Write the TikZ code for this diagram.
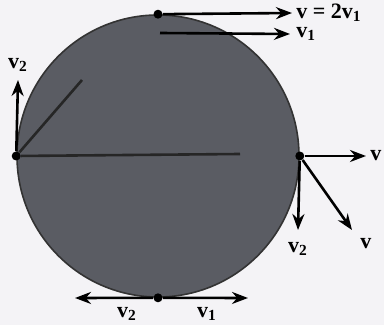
\documentclass[tikz,border=0pt]{standalone}
\usepackage{fontspec}
\setmainfont{Liberation Serif}
\usepackage{tikz}
\usetikzlibrary{positioning,arrows.meta}
\definecolor{paper}{HTML}{F4F3F6}
\definecolor{diskfill}{HTML}{5A5C63}
\tikzset{
  disk/.style={circle,draw=black!80,thick,fill=diskfill,minimum size=141pt,inner sep=0pt},
  dot/.style={circle,fill=black,inner sep=0pt,minimum size=4.5pt},
  vec/.style={-{Stealth[length=8pt,width=6pt]},draw=black,line width=1.3pt},
  lbl/.style={inner sep=0pt,font=\bfseries\fontsize{11}{12}\selectfont},
}

\begin{document}
\begin{tikzpicture}[x=0.5pt,y=-0.5pt]
  \fill[paper] (0,0) rectangle (384,325);
  \useasboundingbox (0,0) rectangle (384,325);
  \node[disk] (w) at (158,156) {};
  \node[dot] (t) at (w.north) {};
  \node[dot] (l) at (w.west) {};
  \node[dot] (r) at (w.east) {};
  \node[dot] (b) at (w.south) {};
  % top
  \coordinate (tm) at (160,33);
  \coordinate (ta) at (292,13);
  \coordinate (tb) at (290,34);
  \node[lbl,right=2pt of ta] (lta) {v = 2v\textsubscript{1}};
  \node[lbl,right=3pt of tb] (ltb) {v\textsubscript{1}};
  \draw[vec] (t)--(ta);
  \draw[vec] (tm)--(tb);
  % left
  \coordinate (la) at (18,80);
  \node[lbl,above=4pt of la] (lla) {v\textsubscript{2}};
  \draw[vec] (l)--(la);
  \draw[black!85,line width=1.3pt] (l)--(82,80);
  \draw[black!85,line width=1.3pt] (l)--(240,154);
  % right
  \coordinate (ra) at (366,156);
  \coordinate (rb) at (298,230);
  \coordinate (rc) at (352,230);
  \node[lbl,right=2pt of ra] (lra) {v};
  \node[lbl,below=6pt of rb] (lrb) {v\textsubscript{2}};
  \node[lbl,below right=4pt and 4pt of rc] (lrc) {v};
  \draw[vec] (r)--(ra);
  \draw[vec] (r)--(rb);
  \draw[vec] (r)--(rc);
  % bottom
  \coordinate (ba) at (75,298);
  \coordinate (bb) at (248,298);
  \node[lbl] (lba) at (127,314) {v\textsubscript{2}};
  \node[lbl] (lbb) at (207,314) {v\textsubscript{1}};
  \draw[vec] (b)--(ba);
  \draw[vec] (b)--(bb);
\end{tikzpicture}
\end{document}
